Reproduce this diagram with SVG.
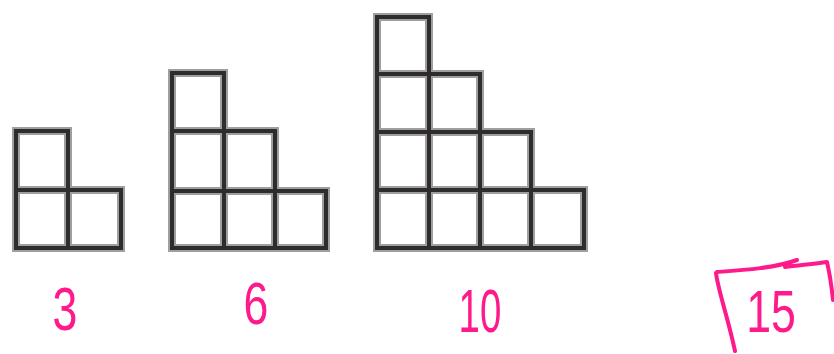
<svg xmlns="http://www.w3.org/2000/svg" width="834" height="354" viewBox="0 0 834 354">
<style>
.halo{fill:none;stroke:#8e8e8e;stroke-width:8;stroke-linecap:square;opacity:0.85}
.core{fill:none;stroke:#2e2c2d;stroke-width:4;stroke-linecap:square}
.num{font-family:"Liberation Sans",Arial,sans-serif;font-size:62px;fill:#ff1a8c;text-anchor:middle}
.pen{fill:none;stroke:#ff1a8c;stroke-width:4;stroke-linecap:round;stroke-linejoin:round}
</style>
<defs>
<path id="f1" d="M16 131V248M68 131V248M121 190V248M16 131H68M16 190H121M16 248H121"/>
<path id="f2" d="M172 73V248M224 73V248M275 131V248M326 191V248M172 73H224M172 131H275M172 191H326M172 248H326"/>
<path id="f3" d="M377 17V248M429 17V248M480 74V248M531 132V248M584 190V248M377 17H429M377 74H480M377 132H531M377 190H584M377 248H584"/>
</defs>
<rect width="834" height="354" fill="#ffffff"/>
<g id="figure-3-squares">
<use href="#f1" class="halo"/>
<use href="#f1" class="core"/>
</g>
<g id="figure-6-squares">
<use href="#f2" class="halo"/>
<use href="#f2" class="core"/>
</g>
<g id="figure-10-squares">
<use href="#f3" class="halo"/>
<use href="#f3" class="core"/>
</g>
<g id="label-3">
<text class="num" transform="translate(65,330) scale(0.72,1)">3</text>
</g>
<g id="label-6">
<text class="num" transform="translate(256,324) scale(0.72,0.95)">6</text>
</g>
<g id="label-10">
<text class="num" transform="translate(480,332) scale(0.62,1)">10</text>
</g>
<g id="label-15">
<path class="pen" d="M716 273C718 290 728 318 735 351M717 272C745 270 775 268 797 260M785 267C800 265 815 264 827 262C830 275 832 290 833 300"/>
<text class="num" transform="translate(771,332) scale(0.72,0.95)">15</text>
</g>
</svg>
